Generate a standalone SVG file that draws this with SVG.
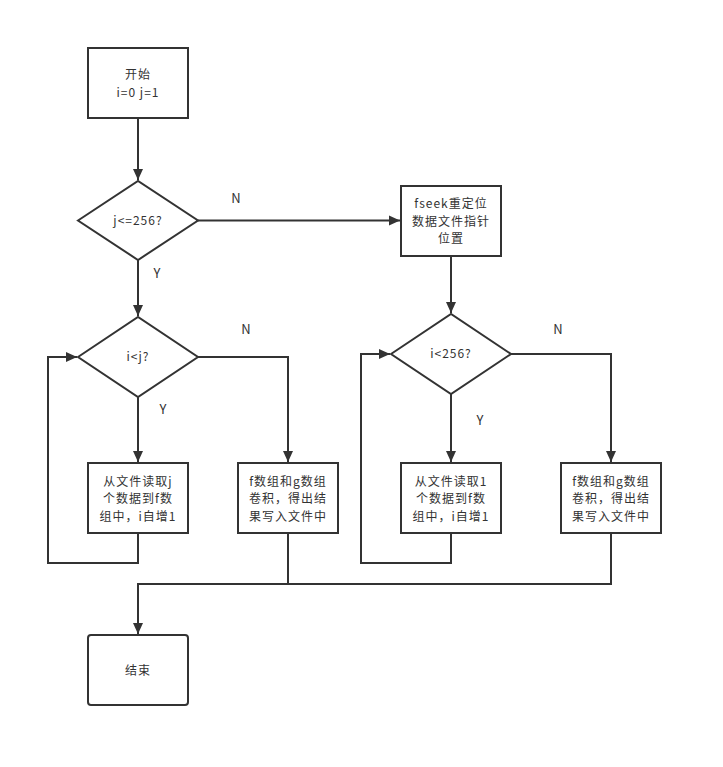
<svg xmlns="http://www.w3.org/2000/svg" width="723" height="767" viewBox="0 0 723 767">
<style>
.n{fill:#fff;stroke:#333;stroke-width:2}
.c{fill:none;stroke:#333;stroke-width:2}
text{font-family:"Microsoft YaHei","Noto Sans CJK SC",sans-serif;font-size:12px;fill:#333;text-anchor:middle;letter-spacing:1px}
.l{font-size:13px;letter-spacing:0}
</style>
<defs>
<marker id="a" markerUnits="userSpaceOnUse" markerWidth="12" markerHeight="12" viewBox="0 0 12 12" refX="11" refY="6" orient="auto">
<path d="M0,1 L11,6 L0,11 Z" fill="#333"/>
</marker>
</defs>
<rect width="723" height="767" fill="#fff"/>
<g id="connectors">
<path class="c" d="M138,118 V180" marker-end="url(#a)"/>
<path class="c" d="M198,220.5 H400" marker-end="url(#a)"/>
<path class="c" d="M138,260 V316" marker-end="url(#a)"/>
<path class="c" d="M138,397 V462" marker-end="url(#a)"/>
<path class="c" d="M198,357 H288 V462" marker-end="url(#a)"/>
<path class="c" d="M138,533 V563 H48 V357 H77" marker-end="url(#a)"/>
<path class="c" d="M451,256 V313" marker-end="url(#a)"/>
<path class="c" d="M451,394 V462" marker-end="url(#a)"/>
<path class="c" d="M511,354 H611 V462" marker-end="url(#a)"/>
<path class="c" d="M451,533 V563 H361 V354 H390" marker-end="url(#a)"/>
<path class="c" d="M288,533 V584"/>
<path class="c" d="M611,533 V584 H138 V634" marker-end="url(#a)"/>
<text class="l" x="236" y="203">N</text>
<text class="l" x="157" y="278">Y</text>
<text class="l" x="246" y="334">N</text>
<text class="l" x="163" y="414">Y</text>
<text class="l" x="558" y="334">N</text>
<text class="l" x="480" y="425">Y</text>
</g>
<g id="start">
<rect class="n" x="88" y="48" width="100" height="70"/>
<text x="138" y="79">开始<tspan x="138" dy="17.5">i=0 j=1</tspan></text>
</g>
<g id="cond1">
<path class="n" d="M78,220.5 L138,181 L198,220.5 L138,260 Z"/>
<text x="138" y="225">j&lt;=256?</text>
</g>
<g id="cond2">
<path class="n" d="M78,357 L138,317 L198,357 L138,397 Z"/>
<text x="138" y="361">i&lt;j?</text>
</g>
<g id="readj">
<rect class="n" x="88" y="463" width="100" height="70"/>
<text x="138" y="485.5">从文件读取j<tspan x="138" dy="17.5">个数据到f数</tspan><tspan x="138" dy="17.5">组中，i自增1</tspan></text>
</g>
<g id="conv1">
<rect class="n" x="238" y="463" width="100" height="70"/>
<text x="288" y="485.5">f数组和g数组<tspan x="288" dy="17.5">卷积，得出结</tspan><tspan x="288" dy="17.5">果写入文件中</tspan></text>
</g>
<g id="fseek">
<rect class="n" x="401" y="186" width="100" height="70"/>
<text x="451" y="208">fseek重定位<tspan x="451" dy="17.5">数据文件指针</tspan><tspan x="451" dy="17.5">位置</tspan></text>
</g>
<g id="cond3">
<path class="n" d="M391,354 L451,314 L511,354 L451,394 Z"/>
<text x="451" y="358">i&lt;256?</text>
</g>
<g id="read1">
<rect class="n" x="401" y="463" width="100" height="70"/>
<text x="451" y="485.5">从文件读取1<tspan x="451" dy="17.5">个数据到f数</tspan><tspan x="451" dy="17.5">组中，i自增1</tspan></text>
</g>
<g id="conv2">
<rect class="n" x="561" y="463" width="100" height="70"/>
<text x="611" y="485.5">f数组和g数组<tspan x="611" dy="17.5">卷积，得出结</tspan><tspan x="611" dy="17.5">果写入文件中</tspan></text>
</g>
<g id="end">
<rect class="n" x="88" y="635" width="100" height="70" rx="3"/>
<text x="138" y="675">结束</text>
</g>
</svg>
